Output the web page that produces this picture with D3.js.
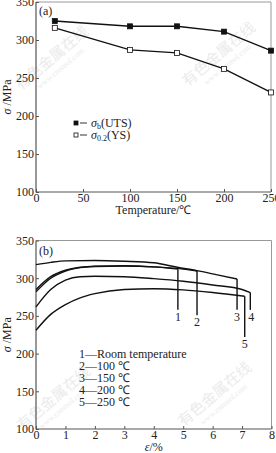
<!DOCTYPE html>
<html>
<head>
<meta charset="utf-8">
<script src="https://cdn.jsdelivr.net/npm/d3@7"></script>
<style>
  body { margin: 0; background: #fff; }
  svg { display: block; }
  text { font-family: "Liberation Serif", "Times New Roman", serif; fill: #222; }
</style>
</head>
<body>
<script>
// (a) strength vs temperature
const tempC = [20, 100, 150, 200, 250];
const utsMPa = [325, 318, 318, 311, 286];
const ysMPa = [316, 287, 283, 262, 231];
const tempTicks = [0, 50, 100, 150, 200, 250];

// (b) stress-strain curves, [strain %, stress MPa]
const curve1 = [[0, 285], [0.5, 302], [1, 310.5], [1.5, 314.5], [2, 316], [3, 316.5], [4, 315], [4.82, 312]];
const curve2 = [[0, 282], [0.5, 300], [1, 309.5], [1.5, 314], [2, 315.5], [3, 316], [4, 315], [5, 312], [5.47, 309.5]];
const curve3 = [[0, 318], [0.5, 321], [1, 323], [2, 323.5], [3, 322.5], [4, 320.5], [4.8, 314.5], [5.47, 310], [6.2, 304], [6.83, 299]];
const curve4 = [[0, 262], [0.5, 285], [1, 297.5], [1.5, 302], [2, 302.5], [3, 302], [4, 299.5], [5, 296], [6, 291], [7, 285], [7.28, 281]];
const curve5 = [[0, 231], [0.5, 252], [1, 265], [1.5, 274], [2, 279.5], [3, 285], [4, 286], [5, 284.5], [6, 281], [7.09, 276]];
const fractureStress = [258, 251, 258, 258, 222];
const curveLabels = ["1", "2", "3", "4", "5"];
const legendB = ["Room temperature", "100 ℃", "150 ℃", "200 ℃", "250 ℃"];
const stressTicks = [100, 150, 200, 250, 300, 350];
const strainTicks = [0, 1, 2, 3, 4, 5, 6, 7, 8];

const W = 276, H = 453;
const SERIF = "'Liberation Serif', 'Times New Roman', serif";
const svg = d3.select("body").append("svg").attr("width", W).attr("height", H);

// 워터마크
function watermark(cx, cy) {
  const g = svg.append("g").attr("transform", `translate(${cx},${cy}) rotate(-40)`);
  g.append("text").attr("text-anchor", "middle")
    .style("font-family", "'Noto Sans CJK SC'").style("font-size", "15px").style("fill", "#ebebeb")
    .text("有色金属在线");
  g.append("text").attr("text-anchor", "middle").attr("y", 11)
    .style("font-size", "8px").style("fill", "#ebebeb")
    .text("www.cnnmol.com");
}
watermark(55, 62);
watermark(222, 58);
watermark(57, 402);
watermark(218, 398);

function frame(x, y) {
  const [x0, x1] = x.range(), [y0, y1] = y.range();
  svg.append("path").attr("d", `M${x0},${y1}H${x1}V${y0}`)
    .attr("fill", "none").attr("stroke", "#999").attr("stroke-width", 1);
  svg.append("path").attr("d", `M${x0},${y1}V${y0}H${x1}`)
    .attr("fill", "none").attr("stroke", "#555").attr("stroke-width", 1.2);
}

function axes(x, y, xt, yt) {
  const [x0, x1] = x.range(), [y0, y1] = y.range();
  frame(x, y);
  svg.append("g").attr("transform", `translate(0,${y0})`)
    .call(d3.axisBottom(x).tickValues(xt).tickSize(-3).tickPadding(0))
    .call(g => g.select(".domain").remove())
    .call(g => g.selectAll("line").attr("stroke", "#555"))
    .call(g => g.selectAll("text").attr("y", 10).attr("dy", null)
      .style("font-family", SERIF).style("font-size", "12px"));
  svg.append("g").attr("transform", `translate(${x0},0)`)
    .call(d3.axisLeft(y).tickValues(yt).tickSize(-3).tickPadding(2))
    .call(g => g.select(".domain").remove())
    .call(g => g.selectAll("line").attr("stroke", "#555"))
    .call(g => g.selectAll("text").style("font-family", SERIF).style("font-size", "12px"));
  const yl = svg.append("text")
    .attr("transform", `translate(11,${(y0 + y1) / 2}) rotate(-90)`)
    .attr("text-anchor", "middle").style("font-size", "12px");
  yl.append("tspan").style("font-style", "italic").text("σ");
  yl.append("tspan").text(" /MPa");
}

// ---- (a)
const xa = d3.scaleLinear().domain([0, 250]).range([36, 271]);
const ya = d3.scaleLinear().domain([100, 350]).range([192, 2]);
axes(xa, ya, tempTicks, stressTicks);
svg.append("text").attr("x", (36 + 271) / 2).attr("y", 214).attr("text-anchor", "middle")
  .style("font-size", "12px").text("Temperature/℃");
svg.append("text").attr("x", 39).attr("y", 15).style("font-size", "12px").text("(a)");

const lineA = d3.line().x(d => xa(d[0])).y(d => ya(d[1]));
const seriesA = [
  { v: utsMPa, fill: "#111" },
  { v: ysMPa, fill: "#fff" }
];
seriesA.forEach(s => {
  const pts = tempC.map((t, i) => [t, s.v[i]]);
  svg.append("path").attr("d", lineA(pts)).attr("fill", "none")
    .attr("stroke", "#111").attr("stroke-width", 1.4);
  svg.selectAll(null).data(pts).enter().append("rect")
    .attr("x", d => xa(d[0]) - 2.5).attr("y", d => ya(d[1]) - 2.5)
    .attr("width", 5).attr("height", 5)
    .attr("fill", s.fill).attr("stroke", "#111").attr("stroke-width", 0.8);
});

// legend (a)
[{ sub: "b", lab: "(UTS)", fill: "#111" }, { sub: "0.2", lab: "(YS)", fill: "#fff" }].forEach((d, i) => {
  const cy = 123 + i * 12;
  svg.append("rect").attr("x", 74).attr("y", cy - 2).attr("width", 4).attr("height", 4)
    .attr("fill", d.fill).attr("stroke", "#111").attr("stroke-width", 0.8);
  svg.append("line").attr("x1", 80).attr("x2", 87).attr("y1", cy).attr("y2", cy)
    .attr("stroke", "#333").attr("stroke-width", 1);
  const t = svg.append("text").attr("x", 91).attr("y", cy + 4).style("font-size", "12px");
  t.append("tspan").style("font-style", "italic").text("σ");
  t.append("tspan").attr("dy", 2).style("font-size", "8px").text(d.sub);
  t.append("tspan").attr("dy", -2).text(d.lab);
});

// ---- (b)
const xb = d3.scaleLinear().domain([0, 8]).range([36, 271.5]);
const yb = d3.scaleLinear().domain([100, 350]).range([429, 240.5]);
axes(xb, yb, strainTicks, stressTicks);
const xlb = svg.append("text").attr("x", (36 + 271.5) / 2).attr("y", 451)
  .attr("text-anchor", "middle").style("font-size", "12px");
xlb.append("tspan").style("font-style", "italic").text("ε");
xlb.append("tspan").text("/%");
svg.append("text").attr("x", 39).attr("y", 255).style("font-size", "12px").text("(b)");

const lineB = d3.line().x(d => xb(d[0])).y(d => yb(d[1])).curve(d3.curveMonotoneX);
const curves = [curve1, curve2, curve3, curve4, curve5];
curves.forEach((c, i) => {
  const last = c[c.length - 1];
  svg.append("path").attr("d", lineB(c)).attr("fill", "none")
    .attr("stroke", "#111").attr("stroke-width", 1.4);
  svg.append("line")
    .attr("x1", xb(last[0])).attr("x2", xb(last[0]))
    .attr("y1", yb(last[1])).attr("y2", yb(fractureStress[i]))
    .attr("stroke", "#111").attr("stroke-width", 1.4);
  svg.append("text").attr("x", xb(last[0]) + (i === 3 ? 1 : 0)).attr("y", yb(fractureStress[i]) + 11)
    .attr("text-anchor", "middle").style("font-size", "12px").text(curveLabels[i]);
});

// legend (b)
legendB.forEach((t, i) => {
  svg.append("text").attr("x", 79).attr("y", 357.5 + i * 12).style("font-size", "12px")
    .text(curveLabels[i] + "—" + t);
});
</script>
</body>
</html>
